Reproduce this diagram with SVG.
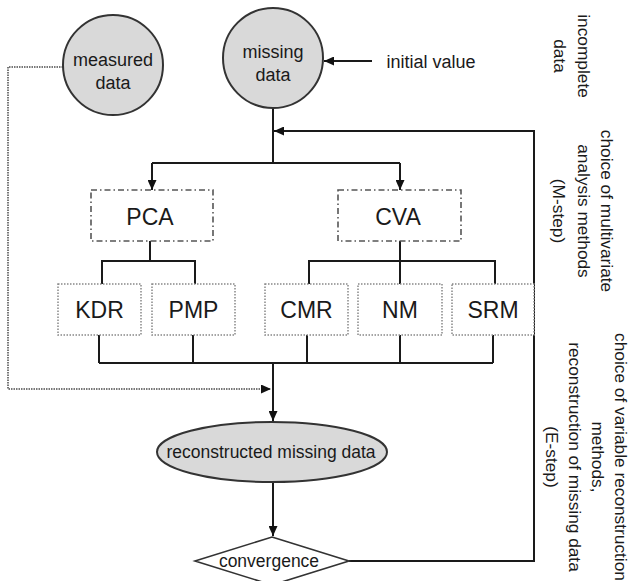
<svg xmlns="http://www.w3.org/2000/svg" width="630" height="581" viewBox="0 0 630 581">
<defs>
<marker id="arr" markerUnits="userSpaceOnUse" markerWidth="10" markerHeight="9" refX="10" refY="4.5" orient="auto">
<path d="M0,0 L10,4.5 L0,9 z" fill="#111"/>
</marker>
<style>
text{font-family:"Liberation Sans",Arial,sans-serif;fill:#1a1a1a}
.lbl{font-size:18px;text-anchor:middle}
.mid{font-size:17.5px;text-anchor:middle}
.big{font-size:23px;text-anchor:middle}
.side{font-size:17.3px;text-anchor:middle}
.circ{fill:#d9d9d9;stroke:#333;stroke-width:2}
.dd{fill:#fff;stroke:#555;stroke-width:1.6;stroke-dasharray:6,3,1.5,3}
.dot{fill:#fff;stroke:#888;stroke-width:1.5;stroke-dasharray:1.5,1.5}
.ln{fill:none;stroke:#1a1a1a;stroke-width:2}
.dl{fill:none;stroke:#777;stroke-width:2;stroke-dasharray:1.5,1}
</style>
</defs>
<rect width="630" height="581" fill="#fff"/>
<g id="connectors">
<path class="dl" d="M63,67 H8 V389 H271" marker-end="url(#arr)"/>
<path class="ln" d="M372,61 H324" marker-end="url(#arr)"/>
<path class="ln" d="M273,108 V163"/>
<path class="ln" d="M152,163 H400"/>
<path class="ln" d="M152,163 V190" marker-end="url(#arr)"/>
<path class="ln" d="M400,163 V190" marker-end="url(#arr)"/>
<path class="ln" d="M150,241 V261 M102,284 V261 H195 V284"/>
<path class="ln" d="M400,241 V284 M309,284 V261 H495 V284"/>
<path class="ln" d="M99,335 V363 M193,335 V363 M307,335 V363 M400,335 V363 M493,335 V363 M99,363 H493"/>
<path class="ln" d="M273,363 V421" marker-end="url(#arr)"/>
<path class="ln" d="M273,482 V536" marker-end="url(#arr)"/>
<path class="ln" d="M349,561 H534 V131 H274" marker-end="url(#arr)"/>
</g>
<g id="measured-data">
<circle class="circ" cx="113" cy="65" r="50"/>
<text class="lbl" x="113" y="66">measured</text>
<text class="lbl" x="113" y="89">data</text>
</g>
<g id="missing-data">
<circle class="circ" cx="273" cy="58" r="50"/>
<text class="lbl" x="273" y="58">missing</text>
<text class="lbl" x="273" y="81">data</text>
</g>
<g id="initial-value">
<text class="lbl" x="431" y="68">initial value</text>
</g>
<g id="pca">
<rect class="dd" x="91" y="190" width="122" height="51"/>
<text class="big" x="150" y="225">PCA</text>
</g>
<g id="cva">
<rect class="dd" x="338" y="190" width="123" height="51"/>
<text class="big" x="398" y="225">CVA</text>
</g>
<g id="kdr">
<rect class="dot" x="58" y="284" width="83" height="51"/>
<text class="big" x="99.5" y="318">KDR</text>
</g>
<g id="pmp">
<rect class="dot" x="152" y="284" width="83" height="51"/>
<text class="big" x="193.5" y="318">PMP</text>
</g>
<g id="cmr">
<rect class="dot" x="265" y="284" width="83" height="51"/>
<text class="big" x="306.5" y="318">CMR</text>
</g>
<g id="nm">
<rect class="dot" x="358" y="284" width="84" height="51"/>
<text class="big" x="400" y="318">NM</text>
</g>
<g id="srm">
<rect class="dot" x="452" y="284" width="82" height="51"/>
<text class="big" x="493" y="318">SRM</text>
</g>
<g id="reconstructed">
<ellipse class="circ" cx="272" cy="452" rx="115" ry="30"/>
<text class="mid" x="271" y="458">reconstructed missing data</text>
</g>
<g id="convergence">
<polygon points="272,537 349,561 272,585 195,561" fill="#fff" stroke="#333" stroke-width="1.6"/>
<text class="mid" x="269" y="567">convergence</text>
</g>
<g id="side-labels">
<text class="side" transform="translate(578,56) rotate(90)">incomplete</text>
<text class="side" transform="translate(554,56) rotate(90)">data</text>
<text class="side" transform="translate(601,211) rotate(90)">choice of multivariate</text>
<text class="side" transform="translate(578,211) rotate(90)">analysis methods</text>
<text class="side" transform="translate(553,211) rotate(90)">(M-step)</text>
<text class="side" transform="translate(615,457) rotate(90)">choice of variable reconstruction</text>
<text class="side" transform="translate(592,457) rotate(90)">methods,</text>
<text class="side" transform="translate(569,457) rotate(90)">reconstruction of missing data</text>
<text class="side" transform="translate(546,457) rotate(90)">(E-step)</text>
</g>
</svg>
